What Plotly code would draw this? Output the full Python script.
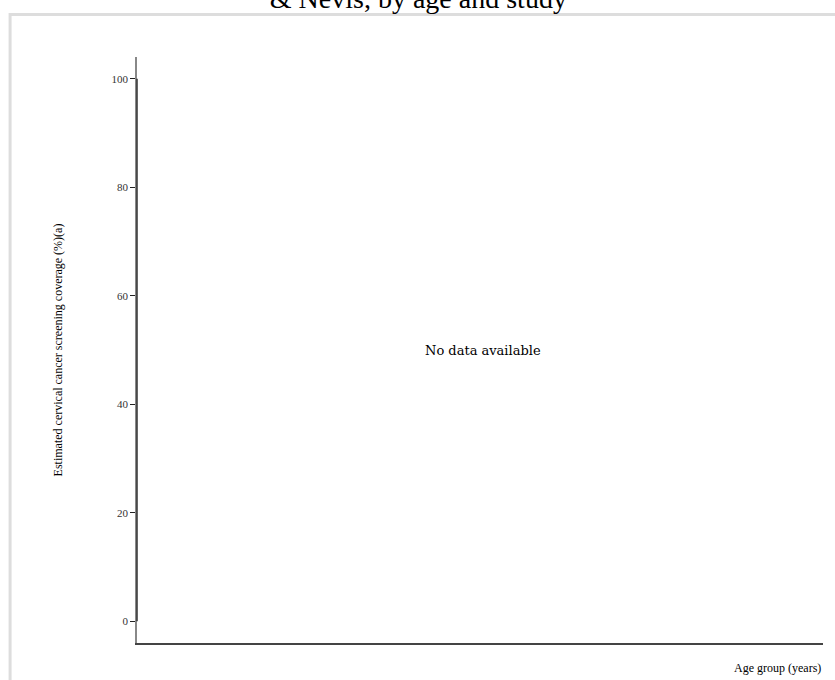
import plotly.graph_objects as go

# no survey values exist for this country: the series is empty
age_groups = []
coverage = []
y_ticks = [0, 20, 40, 60, 80, 100]
y_range = [-4, 104]

title_text = "Estimated cervical cancer screening coverage in Saint Kitts<br>& Nevis, by age and study"
y_title = "Estimated cervical cancer screening coverage (%)(a)"
x_title = "Age group (years)"
empty_note = "No data available"

serif = "Liberation Serif, Times New Roman, serif"
note_font = "DejaVu Serif, Georgia, serif"

fig = go.Figure()
fig.add_trace(go.Bar(x=age_groups, y=coverage, showlegend=False))

fig.update_layout(
    width=835, height=680,
    margin=dict(l=137, r=12, t=57, b=37),
    paper_bgcolor="white", plot_bgcolor="white",
    xaxis=dict(
        showline=True, linecolor="#444", linewidth=1.5,
        showticklabels=False, ticks="", showgrid=False, zeroline=False,
    ),
    yaxis=dict(
        range=y_range, tickmode="array", tickvals=y_ticks,
        showline=True, linecolor="#888", linewidth=1.5,
        ticks="outside", ticklen=5, tickcolor="#222", tickwidth=1,
        tickfont=dict(family=serif, size=11, color="#333"),
        showgrid=False, zeroline=False,
        title=dict(text=y_title, font=dict(family=serif, size=12, color="black"), standoff=46),
    ),
    showlegend=False,
)

# title: only its last line shows below the top edge
fig.add_annotation(text=title_text, xref="paper", yref="paper", x=0.41, y=1.07,
                   xanchor="center", yanchor="bottom", showarrow=False,
                   font=dict(family=serif, size=28, color="black"))

# darker segment of the y spine over the 0-100 scale
fig.add_shape(type="line", xref="paper", yref="y", x0=0, x1=0,
              y0=min(y_ticks), y1=max(y_ticks), line=dict(color="#333", width=1.5))

# light frame round the chart
fig.add_shape(type="rect", xref="paper", yref="paper",
              x0=-0.185, x1=1.05, y0=-0.1, y1=1.0725,
              line=dict(color="#ddd", width=3), layer="below")

fig.add_annotation(text=empty_note, xref="paper", yref="paper", x=0.505, y=0.5,
                   showarrow=False, font=dict(family=note_font, size=13, color="black"))
fig.add_annotation(text=x_title, xref="paper", yref="paper", x=1, y=-0.027,
                   xanchor="right", yanchor="top", showarrow=False,
                   font=dict(family=serif, size=12, color="black"))

# chart sits flush with the page corner, as in the original
fig.write_html("out.html", config={"displayModeBar": False},
               post_script="document.body.style.margin = '0';")
